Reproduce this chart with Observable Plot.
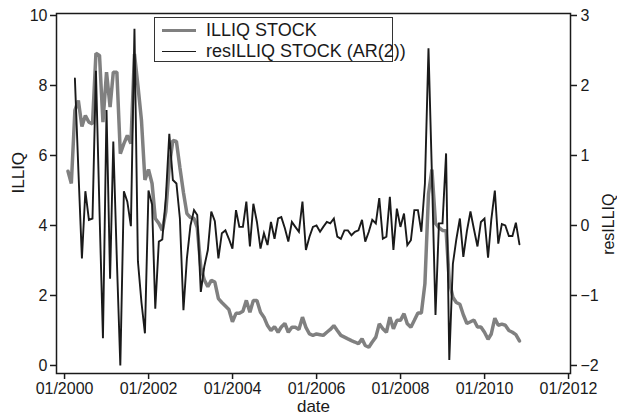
<!DOCTYPE html>
<html>
<head>
<meta charset="utf-8">
<script src="https://cdn.jsdelivr.net/npm/d3@7"></script>
<script src="https://cdn.jsdelivr.net/npm/@observablehq/plot@0.6"></script>
<style>
  body { margin: 0; background: #fff; font-family: "Liberation Sans", Arial, Helvetica, sans-serif; }
  #wrap { position: relative; width: 617px; height: 420px; overflow: hidden; }
  #legend { position: absolute; left: 154px; top: 17px; width: 239px; height: 45px; border: 1.3px solid #333; background: #fff; box-sizing: border-box; }
  .row { position: absolute; left: 0; height: 20px; display: flex; align-items: center; font-size: 18px; color: #1a1a1a; white-space: nowrap; }
  .swatch { display: inline-block; width: 34px; margin-left: 7px; margin-right: 10px; }
</style>
</head>
<body>
<div id="wrap"></div>
<script>
// ILLIQ STOCK, monthly from 2000-01
const illiq = [
  5.55, 5.2, 7.29, 7.57, 6.83, 7.14, 6.95, 6.9, 8.92, 8.86, 6.95, 8.38,
  7.38, 8.38, 8.38, 6.05, 6.34, 6.57, 6.34, 8.9, 8.0, 7.0, 5.3, 5.6,
  5.2, 4.2, 4.06, 3.86, 4.4, 5.7, 6.43, 6.4, 5.66, 4.94, 4.34, 4.23,
  4.2, 3.94, 2.8, 2.45, 2.25, 2.43, 2.38, 1.91, 1.8, 1.7, 1.6, 1.25,
  1.49, 1.49, 1.55, 1.86, 1.52, 1.86, 1.86, 1.52, 1.38, 1.14, 1.0, 1.11,
  0.95, 1.1, 1.2, 0.95, 1.09, 1.09, 1.03, 1.38, 1.09, 0.9, 0.86, 0.9,
  0.88, 0.86, 0.95, 1.03, 1.14, 1.0, 0.86, 0.81, 0.76, 0.71, 0.67, 0.62,
  0.76, 0.57, 0.52, 0.67, 0.81, 1.19, 1.05, 0.95, 1.38, 1.05, 1.29, 1.29,
  1.48, 1.19, 1.09, 1.29, 1.5, 1.5, 2.34, 4.9, 5.6, 4.06, 3.94, 3.86,
  3.85, 2.4, 1.95, 1.8, 1.75, 1.45, 1.2, 1.25, 1.3, 1.1, 1.1, 0.95,
  0.75, 0.9, 1.35, 1.15, 1.18, 1.15, 1.0, 0.95, 0.88, 0.7
];
// resILLIQ STOCK (AR(2)), monthly from 2000-03
const resIlliq = [
  2.1, 0.8, -0.47, 0.49, 0.08, 0.1, 2.21, 0.2, -1.61, 1.65,
  -0.76, 1.2, -0.5, -2.0, 0.49, 0.34, -0.01, 2.81, -0.51, -1.1,
  -1.54, 0.5, 0.3, -1.19, -0.23, -0.2, 0.4, 1.31, 0.65, 0.6,
  0.1, -1.21, -0.47, 0.0, 0.22, 0.15, -0.95, -0.59, -0.35, 0.2,
  0.06, -0.47, -0.11, -0.07, -0.19, -0.33, 0.22, -0.02, -0.02, 0.34,
  -0.3, 0.31, 0.05, -0.33, -0.11, -0.28, 0.05, -0.19, 0.1, 0.12,
  -0.04, -0.23, 0.05, -0.02, -0.09, 0.34, -0.35, -0.16, -0.02, 0.0,
  -0.09, -0.02, 0.05, 0.03, 0.1, -0.16, -0.19, -0.07, -0.07, -0.14,
  -0.09, -0.07, 0.08, -0.23, -0.09, 0.08, 0.03, 0.39, -0.19, -0.16,
  0.41, -0.35, 0.24, -0.02, 0.17, -0.28, -0.21, 0.22, 0.22, -0.09,
  0.6, 2.53, 0.72, -1.28, 0.03, 0.03, 1.03, -1.92, -0.55, -0.2,
  0.1, -0.45, -0.08, 0.2, -0.05, -0.3, 0.05, 0.1, -0.46, 0.08,
  0.5, -0.26, 0.02, 0.0, -0.15, -0.15, 0.04, -0.27
];
const illiqStart = [2000, 0];   // year, month index
const resStart = [2000, 2];
const xTickYears = [2000, 2002, 2004, 2006, 2008, 2010, 2012];
const leftTicks = [0, 2, 4, 6, 8, 10];
const rightTicks = [-2, -1, 0, 1, 2, 3];
const seriesNames = ["ILLIQ STOCK", "resILLIQ STOCK (AR(2))"];
const seriesColors = ["#808080", "#1a1a1a"];
const seriesWidths = [3.5, 1.9];
const axisTitles = { x: "date", left: "ILLIQ", right: "resILLIQ" };

// month-end dates
const monthEnd = (start, i) => new Date(Date.UTC(start[0], start[1] + i + 1, 0));
const grayData = illiq.map((v, i) => ({ date: monthEnd(illiqStart, i), v }));
// right axis: -2..3 spans the same height as 0..10 on the left
const toLeft = r => 2 * (r + 2);
const blackData = resIlliq.map((v, i) => ({ date: monthEnd(resStart, i), v: toLeft(v) }));
const minus = d => (d < 0 ? "\u2212" + Math.abs(d) : String(d));
const ink = "#1a1a1a";
const font = "'Liberation Sans', Arial, Helvetica, sans-serif";

const chart = Plot.plot({
  width: 617,
  height: 420,
  marginLeft: 56,
  marginRight: 47,
  marginTop: 13,
  marginBottom: 47,
  style: { fontFamily: font, fontSize: "16px", color: ink, background: "white", overflow: "visible" },
  x: { type: "utc", domain: [new Date(Date.UTC(1999, 9, 23)), new Date(Date.UTC(2012, 0, 18))] },
  y: { domain: [-0.229, 10.057] },
  marks: [
    Plot.line(grayData, { x: "date", y: "v", stroke: seriesColors[0], strokeWidth: seriesWidths[0], strokeLinejoin: "miter", curve: "linear" }),
    Plot.line(blackData, { x: "date", y: "v", stroke: seriesColors[1], strokeWidth: seriesWidths[1], strokeLinejoin: "miter", strokeMiterlimit: 4 }),
    Plot.frame({ stroke: ink, strokeWidth: 1.5 }),
    Plot.axisX({
      ticks: xTickYears.map(y => new Date(Date.UTC(y, 0, 1))),
      tickFormat: d3.utcFormat("%m/%Y"),
      tickSize: 6, tickPadding: 3, strokeWidth: 1.5, label: null, fontSize: 16
    }),
    Plot.axisY({
      anchor: "left", ticks: leftTicks, tickSize: 6, tickPadding: 3, strokeWidth: 1.5, label: null, fontSize: 16
    }),
    Plot.axisY({
      anchor: "right", ticks: rightTicks.map(toLeft), tickFormat: d => minus(d / 2 - 2),
      tickSize: 6, tickPadding: 4, strokeWidth: 1.5, label: null, fontSize: 16
    }),
    Plot.text([axisTitles.x], { text: d => d, frameAnchor: "bottom", dy: 38, fontSize: 17, fill: ink }),
    Plot.text([axisTitles.left], { text: d => d, frameAnchor: "left", rotate: -90, dx: -38, fontSize: 17, fill: ink }),
    Plot.text([axisTitles.right], { text: d => d, frameAnchor: "right", rotate: -90, dx: 38, fontSize: 16, fill: ink })
  ]
});

const wrap = document.getElementById("wrap");
wrap.appendChild(chart);

// legend
const legend = document.createElement("div");
legend.id = "legend";
seriesNames.forEach((name, k) => {
  const row = document.createElement("div");
  row.className = "row";
  row.style.top = (2 + k * 21) + "px";
  const sw = document.createElement("span");
  sw.className = "swatch";
  sw.style.borderTop = seriesWidths[k] + "px solid " + seriesColors[k];
  row.appendChild(sw);
  row.appendChild(document.createTextNode(name));
  legend.appendChild(row);
});
wrap.appendChild(legend);
</script>
</body>
</html>
